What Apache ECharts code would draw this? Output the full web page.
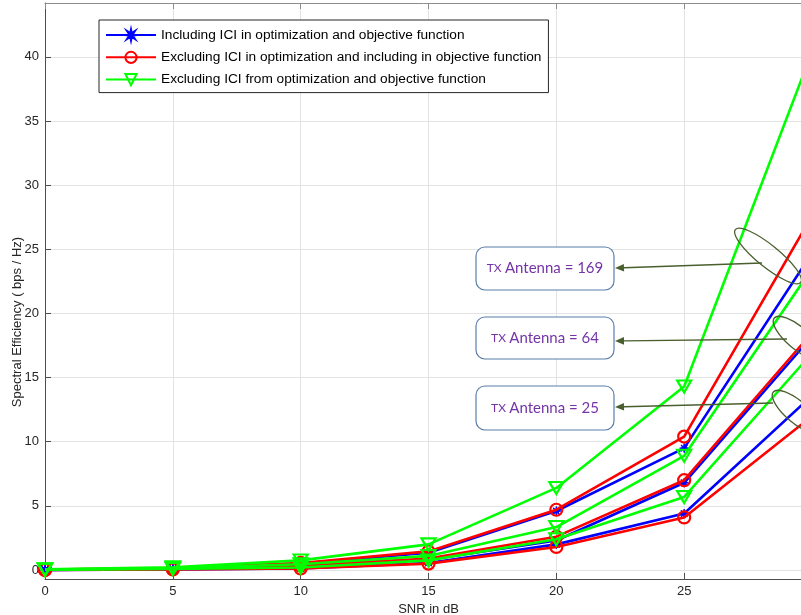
<!DOCTYPE html>
<html>
<head>
<meta charset="utf-8">
<script src="https://cdn.jsdelivr.net/npm/echarts@6/dist/echarts.min.js"></script>
<style>
  html, body { margin: 0; padding: 0; background: #fff; }
  #chart { width: 801px; height: 615px; }
</style>
</head>
<body>
<div id="chart"></div>
<script>
// SNR sweep (dB)
const snr = [0, 5, 10, 15, 20, 25, 30];

// Spectral efficiency (bps/Hz) per number of TX antennas
// Including ICI in optimization and objective function
const incl169 = [0.02, 0.12, 0.50, 1.35, 4.60, 9.50, 24.7];
const incl64  = [0.01, 0.08, 0.30, 0.80, 2.30, 6.80, 18.2];
const incl25  = [0.01, 0.05, 0.12, 0.55, 2.00, 4.40, 13.6];
// Excluding ICI in optimization and including in objective function
const excl169 = [0.03, 0.15, 0.55, 1.45, 4.70, 10.4, 27.6];
const excl64  = [0.02, 0.10, 0.35, 0.90, 2.60, 7.00, 18.5];
const excl25  = [0.01, 0.05, 0.12, 0.50, 1.80, 4.10, 12.0];
// Excluding ICI from optimization and objective function
const none169 = [0.05, 0.22, 0.75, 2.00, 6.40, 14.3, 40.4];
const none64  = [0.03, 0.15, 0.45, 1.10, 3.35, 8.90, 23.5];
const none25  = [0.02, 0.08, 0.20, 0.75, 2.40, 5.70, 16.9];

const methodNames = [
  'Including ICI in optimization and objective function',
  'Excluding ICI in optimization and including in objective function',
  'Excluding ICI from optimization and objective function'
];
const yTicks = [0, 5, 10, 15, 20, 25, 30, 35, 40];
const antennaLabels = ['169', '64', '25'];

const FONT = 'Liberation Sans, Arial, Helvetica, sans-serif';
const AX = '#262626';

const starPath = (() => {
  // eight-ray asterisk outline
  const pts = [];
  const n = 8, ro = 10, ri = 3.6;
  for (let i = 0; i < n * 2; i++) {
    const r = i % 2 === 0 ? ro : ri;
    const a = Math.PI * i / n - Math.PI / 2;
    pts.push((10 + r * Math.cos(a)).toFixed(2) + ',' + (10 + r * Math.sin(a)).toFixed(2));
  }
  return 'path://M' + pts.join(' L') + ' Z';
})();
const triDownPath = 'path://M0,0 L20,0 L10,17 Z';

const styles = [
  { color: '#0000ff', symbol: starPath, size: 9,
    item: { color: '#0000ff', borderColor: '#0000ff', borderWidth: 1 } },
  { color: '#ff0000', symbol: 'circle', size: 12,
    item: { color: 'rgba(0,0,0,0)', borderColor: '#ff0000', borderWidth: 2.2 } },
  { color: '#00ff00', symbol: triDownPath, size: [14, 12],
    item: { color: 'rgba(0,0,0,0)', borderColor: '#00ff00', borderWidth: 2.2 } }
];

const groups = [
  [incl169, incl64, incl25],
  [excl169, excl64, excl25],
  [none169, none64, none25]
];

const series = [];
groups.forEach((grp, m) => {
  const st = styles[m];
  grp.forEach((vals) => {
    series.push({
      name: methodNames[m],
      type: 'line',
      data: snr.map((x, i) => [x, vals[i]]),
      color: st.color,
      symbol: st.symbol,
      symbolSize: st.size,
      showAllSymbol: true,
      lineStyle: { color: st.color, width: 2.6 },
      itemStyle: st.item,
      emphasis: { disabled: true },
      z: 3 + m
    });
  });
});

// Annotation boxes, callout arrows and ellipses
const boxes = [
  { x: 476, y: 247, w: 138, h: 43 },
  { x: 476, y: 317, w: 138, h: 42 },
  { x: 476, y: 386, w: 138, h: 44 }
];
const arrows = [
  [762, 263, 615, 268],
  [787, 339, 615, 341],
  [773, 403, 615, 407]
];
const ellipses = [
  { cx: 768, cy: 256, rx: 42, ry: 11, rot: -0.68 },
  { cx: 798, cy: 338, rx: 31, ry: 11, rot: -0.70 },
  { cx: 797, cy: 412, rx: 31, ry: 11, rot: -0.70 }
];
const ARROW = '#4a5f2e';

const graphics = [];
boxes.forEach((b, i) => {
  graphics.push({
    type: 'rect', z: 50,
    shape: { x: b.x, y: b.y, width: b.w, height: b.h, r: 9 },
    style: { fill: '#ffffff', stroke: '#5a7ea8', lineWidth: 1.2 }
  });
  graphics.push({
    type: 'text', z: 51,
    x: b.x + b.w / 2, y: b.y + b.h / 2,
    style: {
      text: '{s|TX} {b|Antenna = ' + antennaLabels[i] + '}',
      align: 'center', verticalAlign: 'middle',
      rich: {
        s: { fontFamily: 'Lato, sans-serif', fontSize: 12, fill: '#7434a8' },
        b: { fontFamily: 'Lato, sans-serif', fontSize: 15, fill: '#7434a8' }
      }
    }
  });
});
arrows.forEach(([x1, y1, x2, y2]) => {
  const ang = Math.atan2(y2 - y1, x2 - x1);
  const hl = 9, hw = 3.8;
  const bx = x2 - hl * Math.cos(ang), by = y2 - hl * Math.sin(ang);
  graphics.push({
    type: 'line', z: 40,
    shape: { x1: x1, y1: y1, x2: bx, y2: by },
    style: { stroke: ARROW, lineWidth: 1.4 }
  });
  graphics.push({
    type: 'polygon', z: 40,
    shape: { points: [
      [x2, y2],
      [bx + hw * Math.sin(ang), by - hw * Math.cos(ang)],
      [bx - hw * Math.sin(ang), by + hw * Math.cos(ang)]
    ] },
    style: { fill: ARROW }
  });
});
ellipses.forEach((e) => {
  graphics.push({
    type: 'ellipse', z: 40,
    x: e.cx, y: e.cy, rotation: e.rot,
    shape: { cx: 0, cy: 0, rx: e.rx, ry: e.ry },
    style: { fill: 'none', stroke: ARROW, lineWidth: 1.3 }
  });
});
graphics.push({
  type: 'text', z: 10,
  x: 17, y: 322, rotation: Math.PI / 2,
  style: {
    text: 'Spectral Efficiency ( bps / Hz)',
    align: 'center', verticalAlign: 'middle',
    fontFamily: FONT, fontSize: 13, fill: AX
  }
});

const chart = echarts.init(document.getElementById('chart'), null, { renderer: 'canvas' });
chart.setOption({
  animation: false,
  backgroundColor: '#ffffff',
  grid: { left: 45, top: 3, width: 767, height: 576, containLabel: false, outerBoundsMode: 'none' },
  legend: {
    orient: 'vertical',
    left: 99, top: 20,
    padding: [8, 7, 6, 6],
    itemWidth: 50, itemHeight: 14, itemGap: 8.3,
    backgroundColor: '#ffffff',
    borderColor: '#262626', borderWidth: 1,
    textStyle: { fontFamily: FONT, fontSize: 13.7, color: '#000' },
    data: methodNames,
    selectedMode: false,
    z: 60
  },
  xAxis: [{
    type: 'value', min: 0, max: 30, interval: 5,
    name: 'SNR in dB', nameLocation: 'middle', nameGap: 18,
    nameTextStyle: { fontFamily: FONT, fontSize: 13, color: AX },
    axisLine: { show: true, onZero: false, lineStyle: { color: '#4d4d4d', width: 1 } },
    axisTick: { show: true, inside: true, length: 6, lineStyle: { color: '#4d4d4d' } },
    axisLabel: { fontFamily: FONT, fontSize: 13, color: AX, margin: 6 },
    splitLine: { show: true, lineStyle: { color: '#e3e3e3', width: 1 } }
  }, {
    type: 'value', position: 'top', min: 0, max: 30, interval: 5,
    axisLine: { show: true, onZero: false, lineStyle: { color: '#8c8c8c', width: 1 } },
    axisTick: { show: true, inside: true, length: 6, lineStyle: { color: '#8c8c8c' } },
    axisLabel: { show: false },
    splitLine: { show: false }
  }],
  yAxis: {
    type: 'value', min: -0.7, max: 44.2,
    axisLine: { show: true, onZero: false, lineStyle: { color: '#4d4d4d', width: 1 } },
    axisTick: { show: true, inside: true, length: 6, customValues: yTicks, lineStyle: { color: '#4d4d4d' } },
    axisLabel: { fontFamily: FONT, fontSize: 13, color: AX, margin: 6, customValues: yTicks },
    splitLine: { show: true, lineStyle: { color: '#e3e3e3', width: 1 } }
  },
  series: series,
  graphic: graphics
});
</script>
</body>
</html>
